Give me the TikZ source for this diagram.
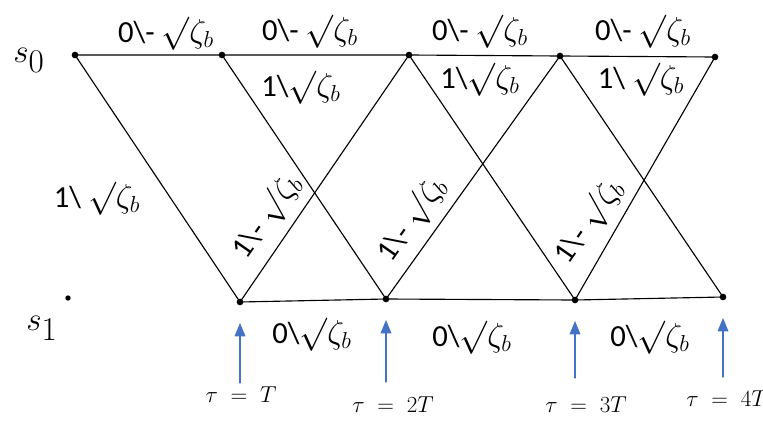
\documentclass[tikz,border=0pt]{standalone}
\usepackage{fontspec}
\setmainfont{Carlito}
\usetikzlibrary{arrows.meta}

\definecolor{tarrow}{RGB}{68,114,196}

\tikzset{
  state/.style={circle,fill=black,inner sep=0pt,minimum size=5pt},
  branch/.style={line width=0.85pt},
  wlab/.style={font=\fontsize{23}{26}\selectfont,inner sep=1pt},
  slab/.style={font=\fontsize{36}{40}\selectfont,inner sep=1pt},
  tlab/.style={font=\fontsize{17}{20}\selectfont,inner sep=1pt},
  timearrow/.style={tarrow,line width=0.9pt,-{Triangle[length=10pt,width=8pt]},shorten >=13pt}
}

\begin{document}
\begin{tikzpicture}[x=0.75pt,y=-0.75pt, line cap=round, line join=round]
\useasboundingbox (0,0) rectangle (763,421);

% states
\node[state] (a0) at (75,55) {};
\node[state] (a1) at (222,55) {};
\node[state] (a2) at (409,55) {};
\node[state] (a3) at (560,56) {};
\node[state] (a4) at (715,57) {};

\node[state] (b1) at (240,302) {};
\node[state] (b2) at (386,299) {};
\node[state] (b3) at (575,300) {};
\node[state] (b4) at (723,297) {};

\node[state,minimum size=4pt] (s1dot) at (68,298) {};

\node[slab] (s0) at (29,60) {$s_0$};
\node[slab] (s1) at (42,328) {$s_1$};

% trellis branches
\draw[branch] (a0.center) -- (a1.center) -- (a2.center) -- (a3.center) -- (a4.center);
\draw[branch] (b1.center) -- (b2.center) -- (b3.center) -- (b4.center);
\draw[branch] (a0.center) -- (b1.center);
\draw[branch] (a1.center) -- (b2.center);
\draw[branch] (b1.center) -- (a2.center);
\draw[branch] (a2.center) -- (b3.center);
\draw[branch] (b2.center) -- (a3.center);
\draw[branch] (a3.center) -- (b4.center);
\draw[branch] (b3.center) -- (a4.center);

% branch labels
\node[wlab] (u1) at (166,34) {0\textbackslash- $\surd\zeta_b$};
\node[wlab] (u2) at (310,32) {0\textbackslash- $\surd\zeta_b$};
\node[wlab] (u3) at (480,32) {0\textbackslash- $\surd\zeta_b$};
\node[wlab] (u4) at (643,32) {0\textbackslash- $\surd\zeta_b$};

\node[wlab] (c1) at (301,88) {1\textbackslash$\surd\zeta_b$};
\node[wlab] (c2) at (480,80) {1\textbackslash$\surd\zeta_b$};
\node[wlab] (c3) at (641,80) {1\textbackslash\ $\surd\zeta_b$};

\node[wlab] (l1) at (97,199) {1\textbackslash\ $\surd\zeta_b$};

\node[wlab,rotate=55] (r1) at (267,217) {1\textbackslash- $\surd\zeta_b$};
\node[wlab,rotate=55] (r2) at (412,220) {1\textbackslash- $\surd\zeta_b$};
\node[wlab,rotate=55] (r3) at (589,222) {1\textbackslash- $\surd\zeta_b$};

\node[wlab] (d1) at (312,335) {0\textbackslash$\surd\zeta_b$};
\node[wlab] (d2) at (472,338) {0\textbackslash$\surd\zeta_b$};
\node[wlab] (d3) at (650,338) {0\textbackslash$\surd\zeta_b$};

% sampling instants
\node[tlab] (t1) at (241,395) {$\tau\;=\;T$};
\node[tlab] (t2) at (393,405) {$\tau\;=\;2T$};
\node[tlab] (t3) at (586,405) {$\tau\;=\;3T$};
\node[tlab] (t4) at (727,399) {$\tau\;=\;4T$};

\coordinate (f1) at (240,383);
\coordinate (f2) at (386,382);
\coordinate (f3) at (575,378);
\coordinate (f4) at (723,377);

\draw[timearrow] (f1) -- (b1);
\draw[timearrow] (f2) -- (b2);
\draw[timearrow] (f3) -- (b3);
\draw[timearrow] (f4) -- (b4);
\end{tikzpicture}
\end{document}
